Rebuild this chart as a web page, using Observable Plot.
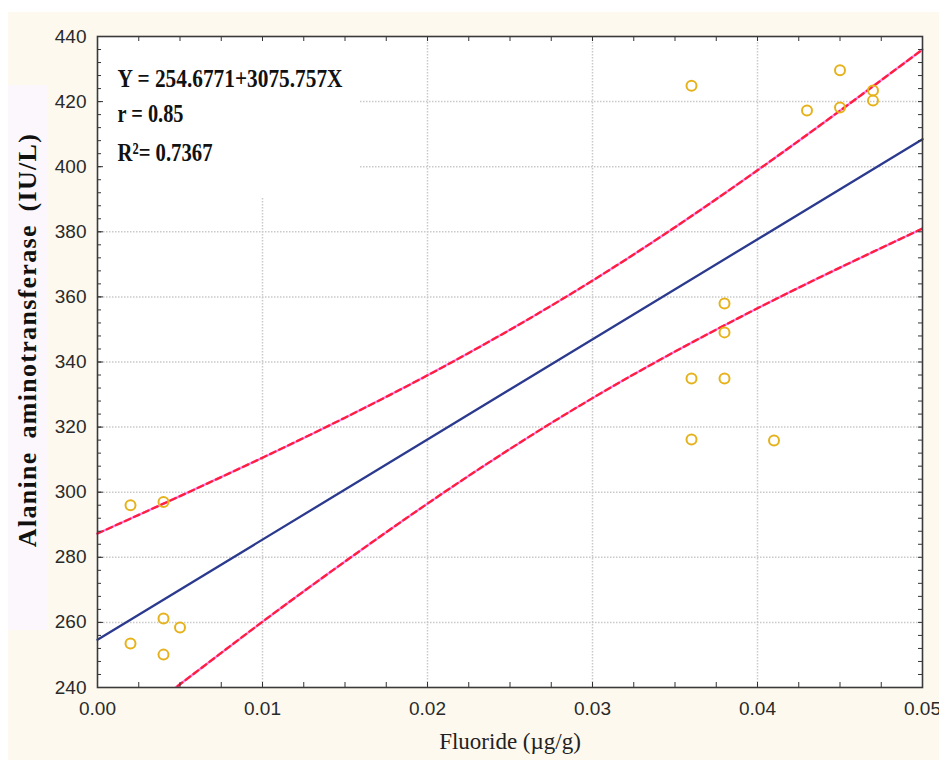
<!DOCTYPE html>
<html><head><meta charset="utf-8">
<script src="https://cdn.jsdelivr.net/npm/d3@7"></script>
<script src="https://cdn.jsdelivr.net/npm/@observablehq/plot@0.6"></script>
<style>
html,body{margin:0;padding:0;background:#fff;}
#wrap{position:relative;width:939px;height:760px;overflow:hidden;}
#cream{position:absolute;left:8px;top:12px;right:0;bottom:0;background:#fdf9ee;}
#lav{position:absolute;left:8px;top:85px;width:39px;height:545px;background:#fbf7fd;}
#chart{position:absolute;left:0;top:0;}
</style></head><body>
<div id="wrap"><div id="cream"></div><div id="lav"></div><div id="chart"></div></div>
<script>
// Observations
const fluoride = [0.002,0.004,0.002,0.004,0.005,0.004,0.036,0.036,0.036,0.038,0.038,0.038,0.041,0.043,0.045,0.045,0.047,0.047];
const alt      = [296,297,253.5,261.2,258.4,250.1,424.9,334.9,316.2,358,349.1,334.9,315.9,417.3,429.6,418.2,423.4,420.3];
// Regression line (from the equation on the chart)
const fitX = [0, 0.05];
const fitY = [254.6771, 408.465];
// 95% confidence band
const bandX     = [0,0.005,0.01,0.015,0.02,0.025,0.03,0.035,0.04,0.045,0.05];
const bandUpper = [287.3,298.8,310.6,322.9,335.9,349.9,365.0,381.4,398.9,417.2,436.0];
const bandLower = [222.0,241.0,260.2,278.7,296.5,313.3,328.9,343.2,356.5,369.0,381.0];
// Axes
const xTicks = [0,0.01,0.02,0.03,0.04,0.05];
const xTickLabels = ["0.00","0.01","0.02","0.03","0.04","0.05"];
const yTicks = [240,260,280,300,320,340,360,380,400,420,440];
const xMinor = d3.range(0, 0.05001, 0.0025);
const yMinor = d3.range(240, 441, 4);
const xLabel = "Fluoride (µg/g)";
const yLabel = "Alanine aminotransferase (IU/L)";
const annot = ["Y = 254.6771+3075.757X", "r = 0.85", "R²= 0.7367"];

const W = 939, H = 760, mL = 97, mR = 17, mT = 36, mB = 73;
const fw = W - mL - mR, fh = H - mT - mB;
const pts = fluoride.map((x, i) => ({x, y: alt[i]}));
const up = bandX.map((x, i) => ({x, y: bandUpper[i]}));
const lo = bandX.map((x, i) => ({x, y: bandLower[i]}));
const fit = fitX.map((x, i) => ({x, y: fitY[i]}));
const grid = {stroke: "#c9c9c9", strokeWidth: 1.5, strokeDasharray: "1.5,1.5"};
const serif = "'Liberation Serif','Times New Roman',serif";

const chart = Plot.plot({
  width: W, height: H, marginLeft: mL, marginRight: mR, marginTop: mT, marginBottom: mB,
  style: {background: "transparent", fontFamily: "'Liberation Sans',Arial,sans-serif", fontSize: "19px", color: "#2a2a2a"},
  x: {domain: [0, 0.05]},
  y: {domain: [240, 440]},
  marks: [
    Plot.frame({fill: "white", stroke: "none"}),
    Plot.ruleY(yTicks.filter(v => v > 240 && v < 400), {y: d => d, ...grid}),
    Plot.ruleY(yTicks.filter(v => v >= 400 && v < 440), {y: d => d, insetLeft: 263, ...grid}),
    Plot.ruleX(xTicks.filter(v => v > 0.01 && v < 0.05), {x: d => d, ...grid}),
    Plot.ruleX(xTicks.filter(v => v === 0.01), {x: d => d, insetTop: 162, ...grid}),
    Plot.line(up, {x: "x", y: "y", curve: "natural", stroke: "#ff7ff0", strokeWidth: 2.3}),
    Plot.line(up, {x: "x", y: "y", curve: "natural", stroke: "#ff1f3d", strokeWidth: 2.3, strokeDasharray: "6,4"}),
    Plot.line(lo, {x: "x", y: "y", curve: "natural", stroke: "#ff7ff0", strokeWidth: 2.3, clip: true}),
    Plot.line(lo, {x: "x", y: "y", curve: "natural", stroke: "#ff1f3d", strokeWidth: 2.3, strokeDasharray: "6,4", clip: true}),
    Plot.line(fit, {x: "x", y: "y", stroke: "#2b3a8e", strokeWidth: 2.3}),
    Plot.dot(pts, {x: "x", y: "y", r: 5, stroke: "#e6b21c", strokeWidth: 2, fill: "none"}),
    // inward ticks
    Plot.tickX(xMinor, {x: d => d, insetTop: fh - 5, stroke: "#333"}),
    Plot.tickX(xMinor, {x: d => d, insetBottom: fh - 5, stroke: "#333"}),
    Plot.tickY(yMinor, {y: d => d, insetRight: fw - 4, stroke: "#333"}),
    Plot.tickY(yMinor, {y: d => d, insetLeft: fw - 4, stroke: "#333"}),
    Plot.tickY(yTicks, {y: d => d, insetRight: fw - 6, stroke: "#333"}),
    Plot.frame({stroke: "#3a3a3a", strokeWidth: 1.6}),
    Plot.axisX(xTicks, {tickSize: 0, tickPadding: 14, tickFormat: (d, i) => xTickLabels[i], label: null}),
    Plot.axisY(yTicks, {tickSize: 0, tickPadding: 11, label: null}),
    Plot.text([xLabel], {frameAnchor: "bottom", dy: 61, fontFamily: serif, fontSize: 23, fill: "#222"}),
    Plot.text([yLabel], {frameAnchor: "left", textAnchor: "middle", dx: -70, dy: -22, rotate: -90, fontFamily: serif, fontWeight: "bold", fontSize: 26, fill: "#111"}),
    Plot.text([annot[0]], {frameAnchor: "top-left", dx: 20, dy: 31.7, textAnchor: "start", fontFamily: serif, fontWeight: "bold", fontSize: 26, fill: "#111"}),
    Plot.text([annot[1]], {frameAnchor: "top-left", dx: 20, dy: 66.7, textAnchor: "start", fontFamily: serif, fontWeight: "bold", fontSize: 26, fill: "#111"}),
    Plot.text([annot[2]], {frameAnchor: "top-left", dx: 20, dy: 105.7, textAnchor: "start", fontFamily: serif, fontWeight: "bold", fontSize: 26, fill: "#111"})
  ]
});
document.getElementById("chart").append(chart);
// squeeze the condensed-looking annotation texts to the widths in the picture
const lengths = {[annot[0]]: 225, [annot[1]]: 66, [annot[2]]: 95};
chart.querySelectorAll("text").forEach(t => {
  const L = lengths[t.textContent];
  if (L) {
    t.setAttribute("textLength", L);
    t.setAttribute("lengthAdjust", "spacingAndGlyphs");
  }
  if (t.textContent === yLabel) {
    t.style.letterSpacing = "1.3px";
    t.style.wordSpacing = "5px";
  }
});
</script>
</body></html>
